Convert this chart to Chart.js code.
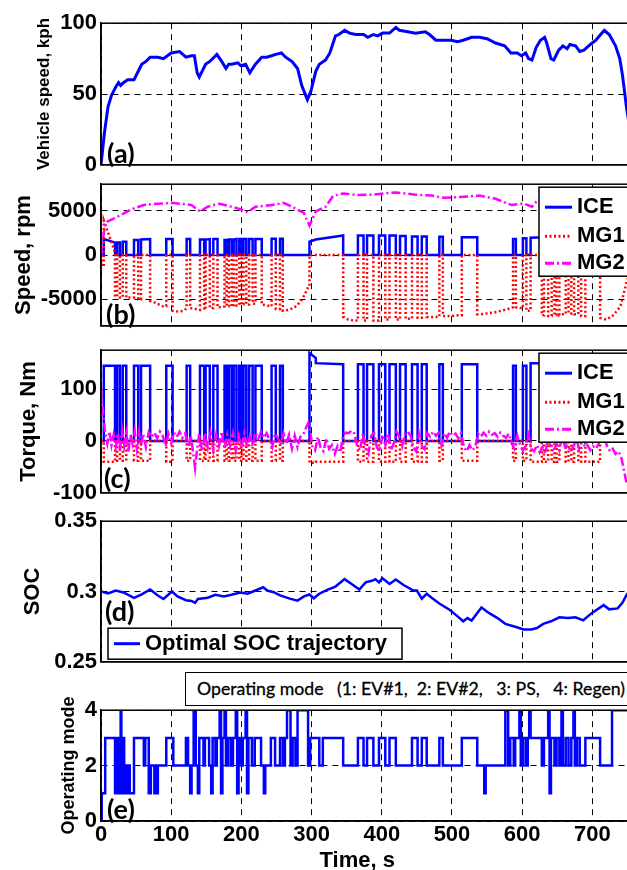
<!DOCTYPE html>
<html>
<head>
<meta charset="utf-8">
<script src="https://cdn.jsdelivr.net/npm/chart.js@4.4.0/dist/chart.umd.min.js"></script>
<style>
html, body { margin: 0; padding: 0; background: #fff; overflow: hidden; width: 627px; height: 870px; }
canvas { position: absolute; left: 0; }
#modeBox {
    position: absolute; left: 185px; top: 672px; width: 480px; height: 34px;
    box-sizing: border-box; border: 1px solid #000; background: #fff;
    font: 17.7px Lato, sans-serif; line-height: 32px; padding-left: 11px;
    white-space: pre; color: #000; -webkit-text-stroke: 0.3px #000;
}
</style>
</head>
<body>
<canvas id="speed" width="660" height="176" style="top:6px"></canvas>
<canvas id="rpm" width="660" height="176" style="top:167px"></canvas>
<canvas id="torque" width="660" height="177" style="top:333px"></canvas>
<canvas id="soc" width="660" height="175" style="top:504px"></canvas>
<canvas id="mode" width="660" height="181" style="top:693px"></canvas>
<div id="modeBox">Operating mode   (1: EV#1,  2: EV#2,   3: PS,   4: Regen)</div>

<script>
const T_END = 765;
const xTicks = [0, 100, 200, 300, 400, 500, 600, 700];

// (a) vehicle speed, kph
const speedT = [0,5,10,15,21,25,28,32,38,47,52,58,64,70,81,89,100,112,121,129,133,137,140,144,149,155,161,165,172,178,182,186,195,199,206,212,220,229,236,243,249,257,263,272,280,286,290,294,299,306,311,320,326,334,339,347,354,363,374,380,388,394,401,411,420,425,437,448,462,468,477,488,499,508,516,528,539,550,562,575,584,593,599,605,609,614,620,626,632,635,641,645,652,658,664,668,676,682,688,697,705,710,717,724,733,739,743,749,757,765];
const speedV = [0,23,41,49,55,58,56,58,60,60,65,71,73,76,76,75,79,80,76,77,77,65,62,66,71,73,76,78,73,68,71,71,72,70,71,65,71,76,76,77,78,79,76,73,68,56,51,46,52,66,71,74,79,91,92,95,93,92,92,90,92,91,93,93,97,95,94,93,94,92,88,88,88,87,88,90,90,89,86,84,79,79,77,79,75,74,83,88,90,86,75,74,81,84,82,85,84,80,81,85,88,91,95,92,84,75,63,39,15,0];

// engine on periods (s) and levels; touching periods run on without a drop
const iceStart = [4,23,31,47,57,93,122,141,149,160,176,182,189,197,203,211,220,243,255,297,306,366,379,396,411,426,443,457,482,514,587,601,612,631,642,649,662,670,680,690];
const iceEnd   = [20,27,36,53,70,102,127,147,155,166,179,186,193,200,207,216,229,249,259,306,345,374,388,405,420,434,451,464,487,536,591,606,628,637,646,653,666,674,684,711];
const iceRpmA  = [1800,1400,1500,1700,1750,1800,1800,1750,1750,1800,1700,1750,1750,1800,1800,1800,1800,1850,1850,1500,1750,2200,2200,2200,2200,2150,2100,2100,2050,2000,1800,1900,1950,2000,2000,2000,2000,2000,2000,2000];
const iceRpmB  = [1400,1400,1500,1700,1800,1800,1800,1750,1800,1800,1700,1750,1800,1800,1800,1800,1800,1850,1850,1750,2200,2200,2200,2200,2200,2150,2100,2100,2050,2000,1800,1900,2000,2000,2000,2000,2000,2000,2000,2050];
const iceTqA   = [145,145,145,145,145,145,145,145,145,145,145,145,145,145,145,145,145,145,145,170,150,148,148,148,148,148,148,148,148,148,145,145,150,148,148,148,148,148,148,148];
const iceTqB   = [145,145,145,145,145,145,145,145,145,145,145,145,145,145,145,145,145,145,145,160,148,148,148,148,148,148,148,148,148,148,145,145,150,148,148,148,148,148,148,148];
const mg1TqOn  = [-40,-38,-38,-38,-38,-40,-38,-38,-38,-38,-38,-38,-38,-38,-38,-38,-38,-38,-38,-42,-40,-40,-40,-40,-40,-40,-40,-40,-38,-38,-38,-38,-40,-40,-40,-40,-40,-40,-40,-40];
const mg1OnA   = [3900,0,0,0,0,0,0,0,0,0,0,0,0,0,0,0,0,0,0,0,0,0,0,0,0,0,0,0,0,0,0,0,0,0,0,0,0,0,0,0];
const mg1OnB   = [300,0,0,0,0,0,0,0,0,0,0,0,0,0,0,0,0,0,0,0,0,0,0,0,0,0,0,0,0,0,0,0,0,0,0,0,0,0,0,0];

// MG1 speed while engine is off
const mg1EnvT = [0,2,22,29,40,55,72,80,88,100,110,118,125,135,145,150,158,168,172,179,187,195,201,209,218,230,236,242,251,260,268,276,284,290,296,346,352,360,368,376,390,400,408,415,424,438,448,455,470,480,490,500,510,520,540,550,560,570,580,590,598,608,618,630,640,648,658,668,677,687,700,711,720,730,740,749,757,765];
const mg1EnvV = [0,-1300,-4700,-4800,-4800,-5000,-5200,-5500,-5800,-6300,-6400,-6300,-6000,-6100,-6200,-6100,-6000,-5900,-5900,-5800,-5800,-5700,-5600,-5600,-5500,-5600,-5700,-5800,-6100,-6300,-6200,-5900,-5300,-4500,-3500,-7000,-7300,-7400,-7400,-7400,-7400,-7400,-7300,-7300,-7300,-7200,-7100,-7100,-7000,-7000,-6900,-6900,-6800,-6700,-6700,-6600,-6500,-6300,-6100,-5900,-6000,-6300,-6700,-6800,-6900,-6800,-6700,-6600,-6700,-6900,-7000,-7100,-7300,-6800,-5800,-3000,-1100,0];

// MG2 speed, rpm
const mg2T = [0,4,7,15,27,44,61,81,101,118,129,141,152,169,186,198,209,220,243,260,272,289,297,306,320,331,346,363,386,420,448,471,488,511,539,562,585,602,614,622,640,660,680,700,718,730,740,749,757,765];
const mg2V = [0,2500,3700,4000,4460,5180,5640,5800,5890,5750,5640,4930,5460,5800,5460,5180,4820,5460,5640,5890,5460,4750,3320,4930,5460,6710,6960,6790,6820,7070,6820,6710,6460,6540,6710,6360,5640,5820,5460,6180,6400,6100,6200,6300,7000,6700,5500,2900,1100,0];

// MG2 torque, Nm
const mg2TqT = [0,2,4,6,9,12,15,18,21,24,27,30,33,36,39,42,45,48,51,54,57,60,64,68,72,76,80,84,88,92,96,100,104,108,112,116,120,124,128,131,134,137,140,144,148,152,156,160,164,168,172,176,180,184,188,192,196,200,204,208,212,216,220,224,228,232,236,240,244,248,252,256,260,264,268,272,276,280,284,288,292,295,298,301,305,309,313,317,321,325,329,333,337,341,345,349,353,357,361,365,369,373,377,381,385,389,393,397,401,405,409,413,417,421,425,429,433,437,441,445,449,453,457,461,465,469,473,477,481,485,489,493,497,501,505,509,513,517,521,525,529,533,537,541,545,549,553,557,561,565,569,573,577,581,585,589,593,597,601,605,609,613,617,621,625,629,633,637,641,645,649,653,657,661,665,669,673,677,681,685,689,693,697,701,705,709,713,717,721,725,729,733,737,741,744,747,749,752,756,760,765];
const mg2TqV = [100,70,40,15,-5,18,-8,12,-12,15,-18,20,-10,15,-22,12,-5,18,-15,16,-8,14,-12,17,8,16,5,18,10,-10,14,-5,16,8,18,6,15,-12,10,-20,-52,-15,14,-20,15,-12,16,-18,12,-10,18,-15,12,-10,15,-18,10,-14,15,-12,8,-10,16,4,18,6,15,2,-12,14,5,-8,14,-5,12,-15,10,-12,8,12,25,34,20,-10,-18,8,-14,-20,5,-15,-8,-25,-10,-22,12,16,15,20,14,-10,-18,14,-15,-25,10,16,-12,-20,12,-8,15,-18,-5,18,8,-10,14,18,10,-12,-20,14,-10,-16,15,8,18,10,16,-8,15,6,18,10,14,5,15,-12,-20,-8,-18,-12,14,8,16,10,18,12,15,8,16,10,6,14,-5,-15,10,-8,-18,-10,12,-15,-20,-8,-22,-12,-25,8,-15,-20,-5,-18,10,-12,-8,-20,-10,5,-15,10,-12,-8,-18,-10,-15,-5,10,5,-10,-20,-15,-25,-20,-30,-50,-70,-82,-90,-60,-30,0];

// (d) SOC
const socT = [0,10,21,32,47,58,70,81,89,101,109,121,129,134,138,152,163,175,186,198,209,220,231,237,246,255,269,280,289,297,303,311,323,334,347,357,368,377,386,391,396,401,411,420,431,445,450,457,464,471,482,497,508,516,522,528,542,553,565,576,590,602,613,621,630,641,653,665,676,687,699,716,724,736,743,749,757,765];
const socV = [0.3,0.2986,0.3007,0.2993,0.2954,0.2979,0.3014,0.2972,0.2947,0.3,0.2965,0.2938,0.2933,0.2919,0.2947,0.2956,0.2977,0.2965,0.2977,0.2993,0.2984,0.3007,0.303,0.3007,0.2995,0.2972,0.2949,0.2935,0.2965,0.2979,0.2952,0.2984,0.3014,0.3035,0.3088,0.3053,0.3014,0.3065,0.3076,0.3088,0.3065,0.3094,0.3053,0.3085,0.3046,0.3007,0.3007,0.2949,0.2984,0.2956,0.2915,0.2869,0.2823,0.2788,0.2811,0.2793,0.2887,0.2846,0.2811,0.277,0.2749,0.273,0.273,0.274,0.277,0.2788,0.2816,0.2811,0.2816,0.2795,0.2846,0.2903,0.2873,0.288,0.2922,0.2979,0.302,0.305];

// (e) operating mode, value holds from each change time
const modeT = [0,1,6,20,22,24,26,28,29,31,33,35,37,39,41,47,61,63,68,71,76,78,80,81,93,103,121,124,127,129,132,135,138,140,146,148,154,157,159,163,165,169,171,173,176,178,181,185,188,192,194,196,199,202,206,208,210,215,219,228,232,234,242,248,255,259,262,265,270,273,277,280,295,298,311,316,345,366,374,379,388,396,405,411,420,443,451,457,464,482,487,514,536,546,548,576,580,583,588,590,596,598,601,605,608,610,612,628,631,637,639,641,646,649,653,656,658,662,666,670,673,675,678,682,690,711,728,765];
const modeV = [0,1,3,1,3,1,3,4,1,3,1,2,1,2,1,3,2,3,1,2,1,2,1,2,3,2,3,2,1,2,4,2,1,3,2,3,2,1,3,2,3,4,1,3,4,2,3,2,3,4,1,3,2,3,4,1,3,2,3,2,1,2,3,2,3,2,3,4,2,3,2,4,2,3,2,3,2,3,2,3,2,3,2,3,2,3,2,3,2,3,2,3,2,1,2,4,2,3,2,3,4,2,3,2,3,4,3,2,3,4,1,3,2,3,2,4,2,3,2,3,4,2,3,2,3,2,4,4];

const pairs = (xs, ys) => xs.map((x, i) => ({x: x, y: ys[i]}));

function pulses(offVal, aVals, bVals) {
    const pts = [{x: 0, y: offVal}];
    iceStart.forEach((s, i) => {
        const joined = i > 0 && iceEnd[i - 1] === s;
        if (!joined) pts.push({x: s, y: offVal});
        pts.push({x: s, y: aVals[i]}, {x: iceEnd[i], y: bVals[i]});
        if (iceStart[i + 1] !== iceEnd[i]) pts.push({x: iceEnd[i], y: offVal});
    });
    pts.push({x: T_END, y: offVal});
    return pts;
}

function nearestEnv(t) {
    let best = 0;
    mg1EnvT.forEach((v, i) => { if (Math.abs(v - t) < Math.abs(mg1EnvT[best] - t)) best = i; });
    return mg1EnvV[best];
}

function mg1Speed() {
    const pts = [];
    let prev = 0;
    const gap = (a, b) => {
        if (b <= a) return;
        pts.push({x: a, y: nearestEnv(a)});
        mg1EnvT.forEach((t, i) => { if (t > a && t < b) pts.push({x: t, y: mg1EnvV[i]}); });
        pts.push({x: b, y: nearestEnv(b)});
    };
    iceStart.forEach((s, i) => {
        gap(prev, s);
        pts.push({x: s, y: mg1OnA[i]}, {x: iceEnd[i], y: mg1OnB[i]});
        prev = iceEnd[i];
    });
    gap(prev, T_END);
    return pts;
}

Chart.defaults.font.family = "'Liberation Sans', Arial, sans-serif";
Chart.defaults.font.weight = 'bold';
Chart.defaults.color = '#000';
Chart.defaults.animation = false;

const BLUE = '#0000ff', RED = '#ff0000', MAGENTA = '#ff00ff';

const notes = {
    id: 'notes',
    afterDraw(chart, args, o) {
        const ctx = chart.ctx, a = chart.chartArea;
        ctx.save();
        ctx.strokeStyle = '#000';
        ctx.lineWidth = 1.5;
        ctx.strokeRect(a.left, a.top, a.right - a.left, a.bottom - a.top);
        ctx.textBaseline = 'middle';
        ctx.textAlign = 'left';
        if (o.legend) {
            const L = o.legend, x = L.x, y = a.top + L.dy;
            ctx.fillStyle = '#fff';
            ctx.fillRect(x, y, L.w, L.h);
            ctx.lineWidth = 1.5;
            ctx.strokeRect(x, y, L.w, L.h);
            ctx.font = L.font;
            chart.data.datasets.forEach((ds, i) => {
                const ry = y + L.rows[i];
                ctx.beginPath();
                ctx.setLineDash(ds.borderDash || []);
                ctx.strokeStyle = ds.borderColor;
                ctx.lineWidth = ds.borderWidth + 0.5;
                ctx.moveTo(x + L.lx0, ry);
                ctx.lineTo(x + L.lx1, ry);
                ctx.stroke();
                ctx.setLineDash([]);
                ctx.fillStyle = '#000';
                ctx.fillText(ds.label, x + L.tx, ry);
            });
        }
        ctx.font = 'bold 27px Lato, sans-serif';
        ctx.fillStyle = '#000';
        ctx.fillText(o.tag, o.tagX, a.top + o.tagDy);
        ctx.restore();
    }
};

const legend3 = {x: 539, dy: 3, w: 130, h: 89, rows: [20, 49, 76], lx0: 6, lx1: 33, tx: 38, font: 'bold 22px "Liberation Sans", Arial, sans-serif'};

function panel(id, cfg) {
    const showX = !!cfg.showX;
    const x = {
        type: 'linear', min: 0, max: T_END,
        afterBuildTicks: ax => { ax.ticks = xTicks.map(v => ({value: v})); },
        ticks: {display: showX, font: {size: 22, weight: 'bold'}, padding: 1, maxRotation: 0, callback: v => String(v)},
        grid: {color: '#000', lineWidth: 1, drawTicks: false},
        border: {color: '#000', width: 1.5, dash: [6, 5]},
        title: {display: showX, text: 'Time, s    ', font: {size: 22, weight: 'bold'}, padding: {top: 0, bottom: 0}}
    };
    if (showX) x.afterFit = ax => { ax.height = 53; };
    return new Chart(document.getElementById(id), {
        type: 'scatter',
        data: {datasets: cfg.datasets},
        options: {
            responsive: false,
            events: [],
            layout: {padding: {top: 14, bottom: showX ? 0 : 14, left: 0, right: 22}},
            elements: {point: {radius: 0}, line: {tension: 0}},
            scales: {
                x: x,
                y: {
                    type: 'linear', min: cfg.yMin, max: cfg.yMax,
                    afterBuildTicks: ax => { ax.ticks = cfg.yTicks.map(v => ({value: v})); },
                    afterFit: ax => { ax.width = 101; },
                    ticks: {font: {size: 22, weight: 'bold'}, padding: 4, callback: v => String(v)},
                    grid: {color: '#000', lineWidth: 1, drawTicks: false},
                    border: {color: '#000', width: 1.5, dash: [6, 5]},
                    title: {display: true, text: cfg.yTitle, font: {size: cfg.titleSize, weight: 'bold'}, padding: {top: cfg.titlePad, bottom: 0}}
                }
            },
            plugins: {legend: {display: false}, tooltip: {enabled: false}, notes: cfg.notes}
        },
        plugins: [notes]
    });
}

panel('speed', {
    yMin: 0, yMax: 100, yTicks: [0, 50, 100],
    yTitle: 'Vehicle speed, kph', titleSize: 17, titlePad: 34,
    notes: {tag: '(a)', tagX: 107, tagDy: 131},
    datasets: [{label: 'Speed', data: pairs(speedT, speedV), showLine: true, borderColor: BLUE, borderWidth: 3}]
});

panel('rpm', {
    yMin: -8000, yMax: 8000, yTicks: [-5000, 0, 5000],
    yTitle: 'Speed, rpm', titleSize: 22, titlePad: 11,
    notes: {tag: '(b)', tagX: 106, tagDy: 131, legend: legend3},
    datasets: [
        {label: 'ICE', data: pulses(0, iceRpmA, iceRpmB), showLine: true, borderColor: BLUE, borderWidth: 2.5, order: 2},
        {label: 'MG1', data: mg1Speed(), showLine: true, borderColor: RED, borderWidth: 2.5, borderDash: [2, 2.5], order: 1},
        {label: 'MG2', data: pairs(mg2T, mg2V), showLine: true, borderColor: MAGENTA, borderWidth: 2.5, borderDash: [9, 3, 2, 3], order: 0}
    ]
});

panel('torque', {
    yMin: -100, yMax: 175, yTicks: [-100, 0, 100],
    yTitle: 'Torque, Nm', titleSize: 22, titlePad: 16,
    notes: {tag: '(c)', tagX: 104, tagDy: 129, legend: legend3},
    datasets: [
        {label: 'ICE', data: pulses(0, iceTqA, iceTqB), showLine: true, borderColor: BLUE, borderWidth: 2.5, order: 2},
        {label: 'MG1', data: pulses(0, mg1TqOn, mg1TqOn), showLine: true, borderColor: RED, borderWidth: 2.5, borderDash: [2, 2.5], order: 1},
        {label: 'MG2', data: pairs(mg2TqT, mg2TqV), showLine: true, borderColor: MAGENTA, borderWidth: 2.5, borderDash: [9, 3, 2, 3], order: 0}
    ]
});

panel('soc', {
    yMin: 0.25, yMax: 0.35, yTicks: [0.25, 0.3, 0.35],
    yTitle: 'SOC', titleSize: 22, titlePad: 20,
    notes: {tag: '(d)', tagX: 105, tagDy: 91,
        legend: {x: 108, dy: 107, w: 294, h: 31, rows: [15.5], lx0: 6, lx1: 32, tx: 37, font: 'bold 22px "Liberation Sans", Arial, sans-serif'}},
    datasets: [{label: 'Optimal SOC trajectory', data: pairs(socT, socV), showLine: true, borderColor: BLUE, borderWidth: 2.5}]
});

panel('mode', {
    showX: true,
    yMin: 0, yMax: 4, yTicks: [0, 2, 4],
    yTitle: 'Operating mode', titleSize: 18, titlePad: 58,
    notes: {tag: '(e)', tagX: 107, tagDy: 100},
    datasets: [{label: 'Mode', data: pairs(modeT, modeV), showLine: true, stepped: true, borderColor: BLUE, borderWidth: 2.5}]
});
</script>
</body>
</html>
